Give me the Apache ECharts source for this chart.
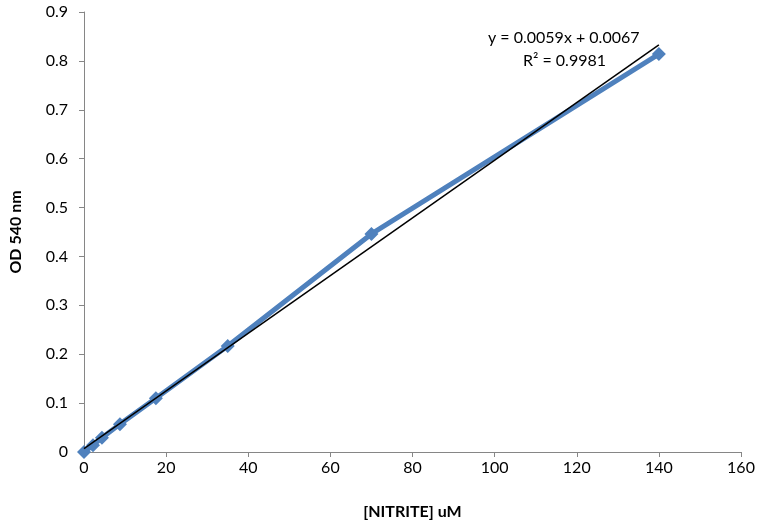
<!DOCTYPE html>
<html><head><meta charset="utf-8">
<script src="https://cdn.jsdelivr.net/npm/echarts@6/dist/echarts.min.js"></script>
<style>html,body{margin:0;padding:0;background:#fff}#c{width:762px;height:526px}</style>
</head><body><div id="c"></div>
<script>
const nitrite = [0, 2.1875, 4.375, 8.75, 17.5, 35, 70, 140];
const od540 = [0, 0.014, 0.029, 0.057, 0.110, 0.217, 0.446, 0.814];
const trendX = [0, 140];
const trendY = [0.0067, 0.8327];
const eqText = 'y = 0.0059x + 0.0067';
const r2Text = 'R² = 0.9981';
const xTitle = '[NITRITE] uM';
const yTitle = 'OD 540 nm';

const font = 'Lato, "Open Sans", sans-serif';
const chart = echarts.init(document.getElementById('c'), null, {renderer: 'canvas'});
chart.setOption({
  animation: false,
  grid: {left: 82, right: 21, top: 12, bottom: 74},
  xAxis: {
    type: 'value', min: 0, max: 160, interval: 20,
    name: xTitle, nameLocation: 'middle', nameGap: 52,
    nameTextStyle: {fontFamily: font, fontSize: 16, fontWeight: 'bold', color: '#000'},
    axisLine: {show: true, onZero: false, lineStyle: {color: '#868686', width: 1}},
    axisTick: {show: true, inside: false, length: 5, lineStyle: {color: '#868686'}},
    axisLabel: {fontFamily: font, fontSize: 16, color: '#000', margin: 8},
    splitLine: {show: false}
  },
  yAxis: {
    type: 'value', min: 0, max: 0.9, interval: 0.1,
    name: yTitle, nameLocation: 'middle', nameGap: 60, nameRotate: 90,
    nameTextStyle: {fontFamily: font, fontSize: 16, fontWeight: 'bold', color: '#000'},
    axisLine: {show: true, lineStyle: {color: '#868686', width: 1}},
    axisTick: {show: true, inside: false, length: 5, lineStyle: {color: '#868686'}},
    axisLabel: {fontFamily: font, fontSize: 16, color: '#000', margin: 16,
      formatter: v => (Math.round(v * 10) / 10).toString()},
    splitLine: {show: false}
  },
  series: [
    {
      type: 'line',
      data: nitrite.map((x, i) => [x, od540[i]]),
      symbol: 'diamond', symbolSize: 14,
      lineStyle: {color: '#4F81BD', width: 5},
      itemStyle: {color: '#4F81BD'},
      z: 2
    },
    {
      type: 'line',
      data: trendX.map((x, i) => [x, trendY[i]]),
      symbol: 'none',
      lineStyle: {color: '#000', width: 1.5},
      z: 3
    }
  ],
  graphic: [
    {type: 'text', left: 488, top: 30, style: {text: eqText, font: '16px ' + font, fill: '#000'}},
    {type: 'text', left: 523, top: 53, style: {text: r2Text, font: '16px ' + font, fill: '#000'}}
  ]
});
</script></body></html>
